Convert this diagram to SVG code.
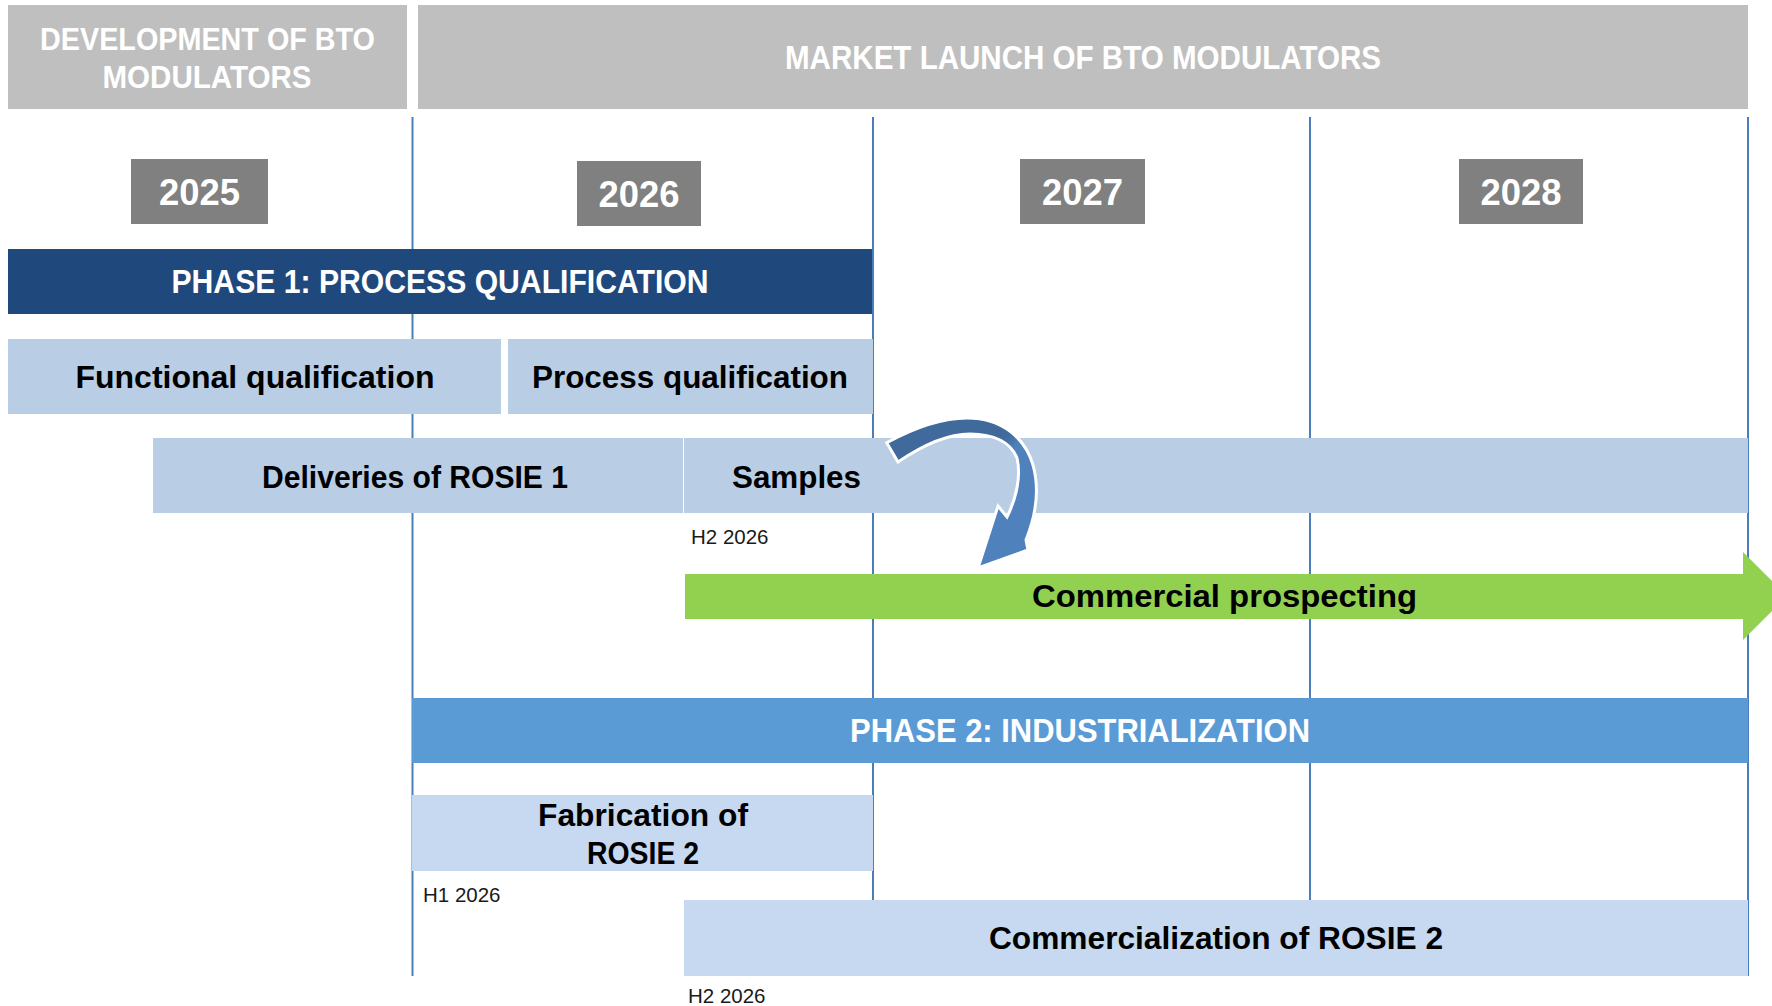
<svg xmlns="http://www.w3.org/2000/svg" width="1772" height="1006" viewBox="0 0 1772 1006">
  <style>
    .hdr { fill: #bfbfbf; }
    .hdr-t { fill: #ffffff; font-family: "Liberation Sans", Arial, sans-serif; font-weight: bold; text-anchor: middle; }
    .year { fill: #808080; }
    .year-t { fill: #ffffff; font-family: "Liberation Sans", Arial, sans-serif; font-weight: bold; font-size: 36px; text-anchor: middle; }
    .grid line { stroke: #4a7ebb; stroke-width: 2; }
    .phase1 { fill: #1f497d; }
    .phase2 { fill: #5b9bd5; }
    .phase-t { fill: #ffffff; font-family: "Liberation Sans", Arial, sans-serif; font-weight: bold; font-size: 33px; text-anchor: middle; }
    .task { fill: #b9cde5; }
    .task2 { fill: #c6d9f1; }
    .task-t { fill: #000000; font-family: "Liberation Sans", Arial, sans-serif; font-weight: bold; font-size: 31px; text-anchor: middle; }
    .green { fill: #92d050; }
    .note { fill: #1a1a1a; font-family: "Liberation Sans", Arial, sans-serif; font-size: 20.5px; }
  </style>
  <defs>
    <linearGradient id="curveFill" gradientUnits="userSpaceOnUse" x1="985" y1="428" x2="1025" y2="470">
      <stop offset="0.35" stop-color="#3f6a9b"/>
      <stop offset="0.6" stop-color="#4f81bd"/>
    </linearGradient>
  </defs>

  <rect width="1772" height="1006" fill="#ffffff"/>

  <!-- top headers -->
  <g id="header-development">
    <rect class="hdr" x="8" y="5" width="399" height="104"/>
    <text class="hdr-t" x="207.5" y="50" font-size="31" textLength="335" lengthAdjust="spacingAndGlyphs">DEVELOPMENT OF BTO</text>
    <text class="hdr-t" x="207" y="88" font-size="31" textLength="209" lengthAdjust="spacingAndGlyphs">MODULATORS</text>
  </g>
  <g id="header-market">
    <rect class="hdr" x="418" y="5" width="1330" height="104"/>
    <text class="hdr-t" x="1083" y="69" font-size="34" textLength="596" lengthAdjust="spacingAndGlyphs">MARKET LAUNCH OF BTO MODULATORS</text>
  </g>

  <!-- year dividers -->
  <g class="grid" id="grid">
    <line x1="412.5" y1="117" x2="412.5" y2="976"/>
    <line x1="873" y1="117" x2="873" y2="976"/>
    <line x1="1310" y1="117" x2="1310" y2="976"/>
    <line x1="1748" y1="117" x2="1748" y2="976"/>
  </g>

  <!-- years -->
  <g id="year-2025">
    <rect class="year" x="131" y="159" width="137" height="65"/>
    <text class="year-t" x="199.5" y="205" textLength="81" lengthAdjust="spacingAndGlyphs">2025</text>
  </g>
  <g id="year-2026">
    <rect class="year" x="577" y="161" width="124" height="65"/>
    <text class="year-t" x="639" y="207" textLength="81" lengthAdjust="spacingAndGlyphs">2026</text>
  </g>
  <g id="year-2027">
    <rect class="year" x="1020" y="159" width="125" height="65"/>
    <text class="year-t" x="1082.5" y="205" textLength="81" lengthAdjust="spacingAndGlyphs">2027</text>
  </g>
  <g id="year-2028">
    <rect class="year" x="1459" y="159" width="124" height="65"/>
    <text class="year-t" x="1521" y="205" textLength="81" lengthAdjust="spacingAndGlyphs">2028</text>
  </g>

  <!-- phase 1 -->
  <g id="phase-1">
    <rect class="phase1" x="8" y="249" width="864" height="65"/>
    <text class="phase-t" x="440" y="293" textLength="537" lengthAdjust="spacingAndGlyphs">PHASE 1: PROCESS QUALIFICATION</text>
  </g>
  <g id="functional-qualification">
    <rect class="task" x="8" y="339" width="493" height="75"/>
    <text class="task-t" x="255" y="388" textLength="359" lengthAdjust="spacingAndGlyphs">Functional qualification</text>
  </g>
  <g id="process-qualification">
    <rect class="task" x="508" y="339" width="365" height="75"/>
    <text class="task-t" x="690" y="388" textLength="316" lengthAdjust="spacingAndGlyphs">Process qualification</text>
  </g>
  <g id="deliveries-rosie-1">
    <rect class="task" x="153" y="438" width="530" height="75"/>
    <text class="task-t" x="415" y="488" textLength="306" lengthAdjust="spacingAndGlyphs">Deliveries of ROSIE 1</text>
  </g>
  <g id="samples">
    <rect class="task" x="684" y="438" width="1064" height="75"/>
    <text class="task-t" x="796.5" y="488" textLength="129" lengthAdjust="spacingAndGlyphs">Samples</text>
    <text class="note" x="691" y="544">H2 2026</text>
  </g>
  <g id="commercial-prospecting">
    <polygon class="green" points="685,574 1743,574 1743,552 1787,596 1743,640 1743,619 685,619"/>
    <text class="task-t" x="1224.5" y="607" textLength="385" lengthAdjust="spacingAndGlyphs">Commercial prospecting</text>
  </g>

  <!-- phase 2 -->
  <g id="phase-2">
    <rect class="phase2" x="412" y="698" width="1336" height="65"/>
    <text class="phase-t" x="1080" y="742" textLength="460" lengthAdjust="spacingAndGlyphs">PHASE 2: INDUSTRIALIZATION</text>
  </g>
  <g id="fabrication-rosie-2">
    <rect class="task2" x="412" y="795" width="461" height="76"/>
    <text class="task-t" x="643" y="826" textLength="210" lengthAdjust="spacingAndGlyphs">Fabrication of</text>
    <text class="task-t" x="643" y="864" textLength="112" lengthAdjust="spacingAndGlyphs">ROSIE 2</text>
    <text class="note" x="423" y="902">H1 2026</text>
  </g>
  <g id="commercialization-rosie-2">
    <rect class="task2" x="684" y="900" width="1064" height="76"/>
    <text class="task-t" x="1216" y="949" textLength="454" lengthAdjust="spacingAndGlyphs">Commercialization of ROSIE 2</text>
    <text class="note" x="688" y="1003">H2 2026</text>
  </g>

  <!-- curved arrow from samples to commercial prospecting -->
  <g id="connectors">
    <path d="M 886.7,442.7 C 912,429 940,418 967,418 C 1002,418 1025,438 1033,465 C 1040,490 1036,515 1026,540 L 1028,550 L 978,568 L 998,506 L 1007,517 C 1017,497 1021,475 1017,458 C 1011,443 995,434 970,434 C 945,434 920,447 898,462 Z" fill="url(#curveFill)" stroke="#ffffff" stroke-width="3" stroke-linejoin="miter"/>
  </g>
</svg>
